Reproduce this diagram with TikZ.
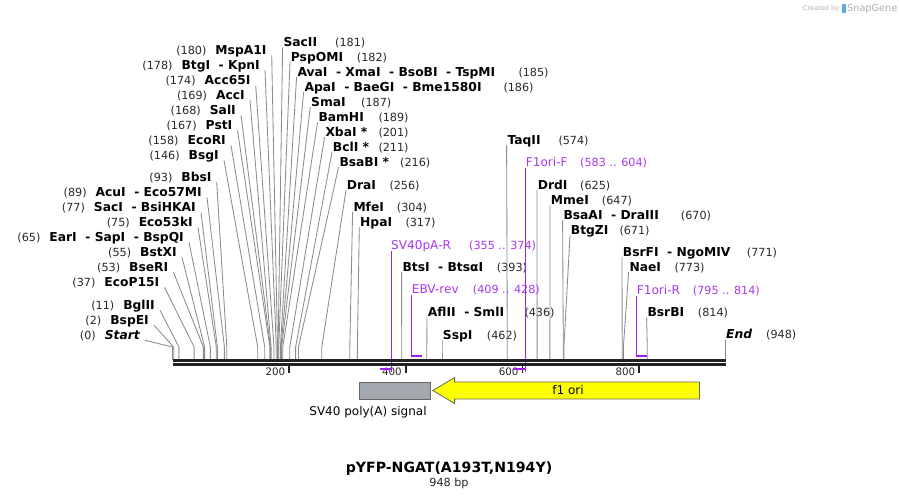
\documentclass[tikz,border=0pt]{standalone}
\usepackage{fontspec}
\setmainfont{DejaVu Sans}
\definecolor{ln}{RGB}{140,140,140}
\definecolor{prp}{RGB}{160,32,240}
\definecolor{prptxt}{RGB}{168,56,240}
\definecolor{bbc}{RGB}{34,34,34}
\definecolor{numc}{RGB}{40,40,40}
\definecolor{polyA}{RGB}{164,169,176}
\definecolor{fone}{RGB}{255,255,0}
\definecolor{wm}{RGB}{175,175,175}
\definecolor{wmblue}{RGB}{90,170,230}
\newcommand\enzname[1]{{\fontsize{12.3}{14}\selectfont\bfseries #1}}
\newcommand\enznum[1]{{\fontsize{11.2}{13}\selectfont\color{numc}#1}}
\newcommand\prmname[1]{{\fontsize{12.1}{14}\selectfont\color{prptxt}#1}}
\newcommand\prmnum[1]{{\fontsize{11.2}{13}\selectfont\color{prptxt}#1}}
\tikzset{
 conn/.style={draw=ln, line width=0.85pt},
 nmw/.style={inner sep=0pt, anchor=base west},
 nme/.style={inner sep=0pt, anchor=base east},
 nmc/.style={inner sep=0pt, anchor=base},
 prim/.style={draw=prp, line width=1.3pt},
 pbar/.style={draw=prp, line width=2.2pt},
 bbone/.style={draw=bbc, line width=2.6pt},
 tickmark/.style={draw=bbc, line width=1.6pt},
}
% right-hand label: id, x-left, y-center, name, number x, number, site x
\newcommand\rlab[7]{%
 \node[nmw] (#1) at ({#2},{#3+4.3}) {\enzname{#4}};
 \node[nmw] (#1n) at ({#5},{#3+4.3}) {\enznum{(#6)}};
 \coordinate (#1s) at ({#7},347);
 \coordinate (#1b) at ({#7},359.5);
 \draw[conn] ([xshift=-0.7pt,yshift=-1pt]#1.base west) -- (#1s) -- (#1b);
}
% left-hand label: id, x-right, y-center, number, name, site x
\newcommand\llab[6]{%
 \node[nme] (#1) at ({#2},{#3+4.3}) {\enznum{(#4)}\hspace{9pt}\enzname{#5}};
 \coordinate (#1s) at ({#6},347);
 \coordinate (#1b) at ({#6},359.5);
 \draw[conn] ([xshift=5pt,yshift=-1pt]#1.base east) -- (#1s) -- (#1b);
}
\begin{document}
\begin{tikzpicture}[x=1pt,y=-1pt]
\useasboundingbox (0,0) rectangle (900,498);
\fill[white] (0,0) rectangle (900,498);

% ---------- left labels ----------
\llab{mspa}{266.7}{50}{180}{MspA1I}{277.5}
\llab{kpn}{260}{64.7}{178}{BtgI\ \ -\ KpnI}{276.3}
\llab{acc65}{250.7}{80.3}{174}{Acc65I}{274.0}
\llab{acc}{245}{95}{169}{AccI}{271.1}
\llab{sal}{236}{110}{168}{SalI}{270.5}
\llab{pst}{232.5}{125}{167}{PstI}{269.9}
\llab{ecori}{226}{140}{158}{EcoRI}{264.7}
\llab{bsg}{219}{155}{146}{BsgI}{257.7}
\llab{bbs}{211.7}{176.7}{93}{BbsI}{226.8}
\llab{acu}{202}{192}{89}{AcuI\ \ -\ Eco57MI}{224.4}
\llab{sac}{196}{207}{77}{SacI\ \ -\ BsiHKAI}{217.4}
\llab{eco53}{193}{222}{75}{Eco53kI}{216.3}
\llab{ear}{184}{237}{65}{EarI\ \ -\ SapI\ \ -\ BspQI}{210.4}
\llab{bstx}{177}{252}{55}{BstXI}{204.6}
\llab{bser}{168.5}{267}{53}{BseRI}{203.4}
\llab{ecop}{159.5}{282}{37}{EcoP15I}{194.1}
\llab{bgl}{155}{305}{11}{BglII}{178.9}
\llab{bspe}{149}{320}{2}{BspEI}{173.7}
\llab{start}{140}{335}{0}{\itshape Start}{172.5}

% ---------- right labels ----------
\rlab{sacii}{283.3}{42.3}{SacII}{335}{181}{278.1}
\rlab{pspom}{290.7}{56.7}{PspOMI}{356.7}{182}{278.7}
\rlab{ava}{297.3}{71.7}{AvaI\ \ -\ XmaI\ \ -\ BsoBI\ \ -\ TspMI}{518.3}{185}{280.4}
\rlab{apa}{304.3}{86.7}{ApaI\ \ -\ BaeGI\ \ -\ Bme1580I}{503.3}{186}{281.0}
\rlab{sma}{311}{101.7}{SmaI}{361}{187}{281.6}
\rlab{bamh}{318.3}{116.7}{BamHI}{378.3}{189}{282.8}
\rlab{xba}{325.3}{131.7}{XbaI\ *}{378.3}{201}{289.8}
\rlab{bcl}{332.7}{146.7}{BclI\ *}{378.3}{211}{295.6}
\rlab{bsab}{339.3}{161.7}{BsaBI\ *}{400}{216}{298.5}
\rlab{dra}{346.7}{185}{DraI}{389.3}{256}{321.8}
\rlab{mfe}{353.3}{206.7}{MfeI}{396.7}{304}{349.8}
\rlab{hpa}{360}{221.7}{HpaI}{405.3}{317}{357.4}
\rlab{bts}{402.3}{266.7}{BtsI\ \ -\ BtsαI}{496.7}{393}{401.7}
\rlab{afl}{427.7}{311.7}{AflII\ \ -\ SmlI}{524.3}{436}{426.8}
\rlab{ssp}{442.7}{335}{SspI}{486.7}{462}{442.0}
\rlab{taq}{507.3}{140}{TaqII}{558.3}{574}{507.3}
\rlab{drd}{537.7}{185}{DrdI}{580}{625}{537.1}
\rlab{mme}{550.7}{200}{MmeI}{601.7}{647}{549.9}
\rlab{bsaa}{563.3}{215}{BsaAI\ \ -\ DraIII}{680.7}{670}{563.3}
\rlab{btgz}{570.7}{230}{BtgZI}{619.3}{671}{563.9}
\rlab{bsrf}{622.7}{251.7}{BsrFI\ \ -\ NgoMIV}{746.7}{771}{622.2}
\rlab{nae}{629.3}{266.7}{NaeI}{674.3}{773}{623.4}
\rlab{bsrb}{647.3}{312.3}{BsrBI}{697.7}{814}{647.3}
\rlab{end}{726}{334.3}{\itshape End}{766}{948}{725.5}

% ---------- primers ----------
\node[nmw] (p1) at (391,249.3) {\prmname{SV40pA-R}};
\node[nmw] (p1n) at (469,249.3) {\prmnum{(355 .. 374)}};
\coordinate (p1a) at (391.7,369);
\coordinate (p1b) at (379.6,369);
\coordinate (p1c) at (391.7,371.5);
\draw[prim] ([xshift=0.7pt,yshift=-1.5pt]p1.base west) -- (p1c);
\draw[pbar] (p1b) -- (p1a);

\node[nmw] (p2) at (411.7,293.6) {\prmname{EBV-rev}};
\node[nmw] (p2n) at (472.7,293.6) {\prmnum{(409 .. 428)}};
\coordinate (p2a) at (411.7,355.7);
\coordinate (p2b) at (422.2,355.7);
\draw[prim] ([yshift=-1.5pt]p2.base west) -- (p2a);
\draw[pbar] ([xshift=-0.6pt]p2a) -- (p2b);

\node[nmw] (p3) at (525.7,166.6) {\prmname{F1ori-F}};
\node[nmw] (p3n) at (580,166.6) {\prmnum{(583 .. 604)}};
\coordinate (p3a) at (525.7,369);
\coordinate (p3b) at (512.6,369);
\coordinate (p3c) at (525.7,371.5);
\draw[prim] ([yshift=-1.5pt]p3.base west) -- (p3c);
\draw[pbar] (p3b) -- (p3a);

\node[nmw] (p4) at (636.7,294.3) {\prmname{F1ori-R}};
\node[nmw] (p4n) at (692.7,294.3) {\prmnum{(795 .. 814)}};
\coordinate (p4a) at (636.2,356);
\coordinate (p4b) at (647.3,356);
\draw[prim] ([xshift=-0.5pt,yshift=-1.5pt]p4.base west) -- (p4a);
\draw[pbar] ([xshift=-0.6pt]p4a) -- (p4b);

% ---------- backbone ----------
\coordinate (bbL1) at (172.5,360.3);
\coordinate (bbR1) at (726.3,360.3);
\coordinate (bbL2) at (172.5,364.3);
\coordinate (bbR2) at (726.3,364.3);
\draw[bbone] (bbL1) -- (bbR1);
\draw[bbone] (bbL2) -- (bbR2);

% ticks
\foreach \v/\x in {200/289.2,400/405.8,600/522.5,800/639.2}{
  \coordinate (t\v a) at (\x,365.5);
  \coordinate (t\v b) at (\x,372.5);
  \draw[tickmark] (t\v a) -- (t\v b);
  \node[nme] (t\v l) at (\x-3.8,375.6) {\fontsize{10.3}{12}\selectfont\color{numc}\v};
}
% redraw primer bars over ticks region
\draw[pbar] (p1b) -- (p1a);
\draw[pbar] (p3b) -- (p3a);

% ---------- features ----------
\draw[draw=black!60, line width=0.8pt, fill=polyA] (359,382) rectangle (430,399);
\node[nmc] (polyAlbl) at (368,415.3) {\fontsize{12}{14}\selectfont SV40 poly(A) signal};
\draw[draw=black!60, line width=0.8pt, fill=fone]
  (699.5,382) -- (454.6,382) -- (454.6,377.5) -- (432.8,390.5) -- (454.6,403.5) -- (454.6,399) -- (699.5,399) -- cycle;
\node[nmc] (f1lbl) at (568,394.8) {\fontsize{12}{14}\selectfont f1 ori};

% ---------- title ----------
\node[nmc] (title) at (449,472) {\fontsize{14.1}{16}\selectfont\bfseries pYFP-NGAT(A193T,N194Y)};
\node[nmc] (size) at (449,486) {\fontsize{11.2}{13}\selectfont\color{numc}948 bp};

% ---------- watermark ----------
\node[nme] (wm1) at (839.5,10.3) {\fontsize{6.6}{8}\selectfont\color{wm}Created by};
\fill[wmblue] (842,4) rectangle (845.5,12.5);
\node[nmw] (wm2) at (847,11.4) {\fontsize{9.7}{11}\selectfont\color{wm}SnapGene};
\end{tikzpicture}
\end{document}
